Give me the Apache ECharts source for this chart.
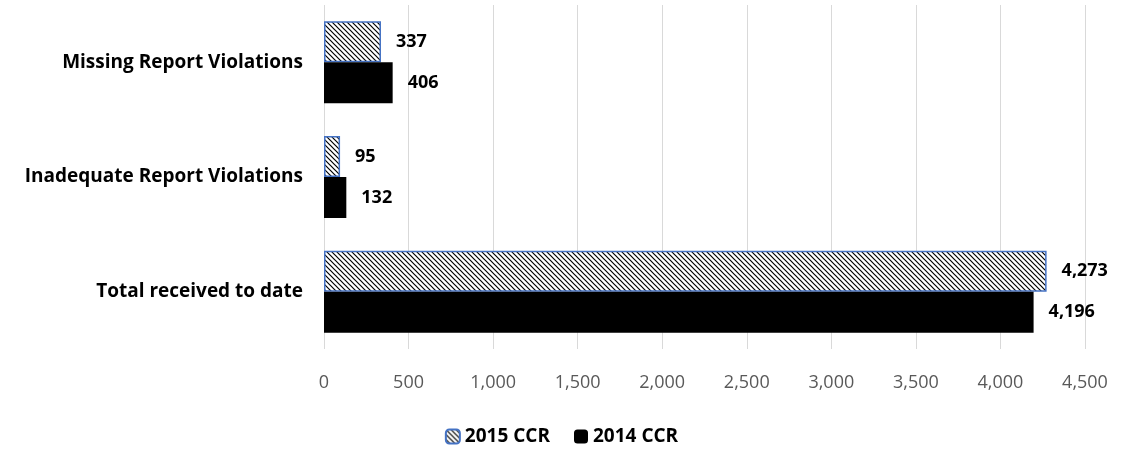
<!DOCTYPE html>
<html>
<head>
<meta charset="utf-8">
<script src="https://cdn.jsdelivr.net/npm/echarts@6/dist/echarts.min.js"></script>
<style>
  html, body { margin: 0; padding: 0; background: #fff; }
  #chart { width: 1123px; height: 469px; }
</style>
</head>
<body>
<div id="chart"></div>
<script>
var categories = ['Total received to date', 'Inadequate Report Violations', 'Missing Report Violations'];
var values2015 = [4273, 95, 337];
var values2014 = [4196, 132, 406];
var seriesNames = ['2015 CCR', '2014 CCR'];

// diagonal hatch tile for the 2015 bars
function makeHatch() {
    var c = document.createElement('canvas');
    c.width = 5;
    c.height = 5;
    var ctx = c.getContext('2d');
    ctx.fillStyle = '#fff';
    ctx.fillRect(0, 0, 5, 5);
    ctx.strokeStyle = '#000';
    ctx.lineWidth = 1.2;
    ctx.beginPath();
    ctx.moveTo(-1, -1); ctx.lineTo(6, 6);
    ctx.moveTo(-1, 4); ctx.lineTo(1, 6);
    ctx.moveTo(4, -1); ctx.lineTo(6, 1);
    ctx.stroke();
    return c;
}

var fmt = function (v) { return v.toLocaleString('en-US'); };

var myChart = echarts.init(document.getElementById('chart'));
var labelStyle = {
    show: true,
    position: 'right',
    distance: 15,
    fontFamily: 'Open Sans',
    fontWeight: 'bold',
    fontSize: 18,
    color: '#000',
    formatter: function (p) { return fmt(p.value); }
};
var option = {
    animation: false,
    grid: { left: 324, right: 38, top: 5, bottom: 120 },
    legend: {
        data: seriesNames,
        bottom: 18,
        left: 'center',
        itemWidth: 14,
        itemHeight: 14,
        itemGap: 24,
        textStyle: { fontFamily: 'Open Sans', fontWeight: 'bold', fontSize: 19, color: '#000' }
    },
    xAxis: {
        type: 'value',
        min: 0,
        max: 4500,
        interval: 500,
        axisLine: { show: false },
        axisTick: { show: false },
        splitLine: { lineStyle: { color: '#d9d9d9', width: 1 } },
        axisLabel: {
            margin: 25,
            fontFamily: 'Open Sans',
            fontSize: 18,
            color: '#595959',
            formatter: fmt
        }
    },
    yAxis: {
        type: 'category',
        data: categories,
        axisLine: { show: false },
        axisTick: { show: false },
        axisLabel: {
            margin: 21,
            fontFamily: 'Open Sans',
            fontWeight: 'bold',
            fontSize: 19,
            color: '#000'
        }
    },
    series: [
        {
            name: '2015 CCR',
            type: 'bar',
            data: values2015,
            barWidth: 41,
            barGap: '0%',
            itemStyle: {
                color: { image: makeHatch(), repeat: 'repeat' },
                borderColor: '#4472c4',
                borderWidth: 1.5
            },
            label: labelStyle
        },
        {
            name: '2014 CCR',
            type: 'bar',
            data: values2014,
            barWidth: 41,
            barGap: '0%',
            itemStyle: { color: '#000' },
            label: labelStyle
        }
    ]
};
myChart.setOption(option);
</script>
</body>
</html>
